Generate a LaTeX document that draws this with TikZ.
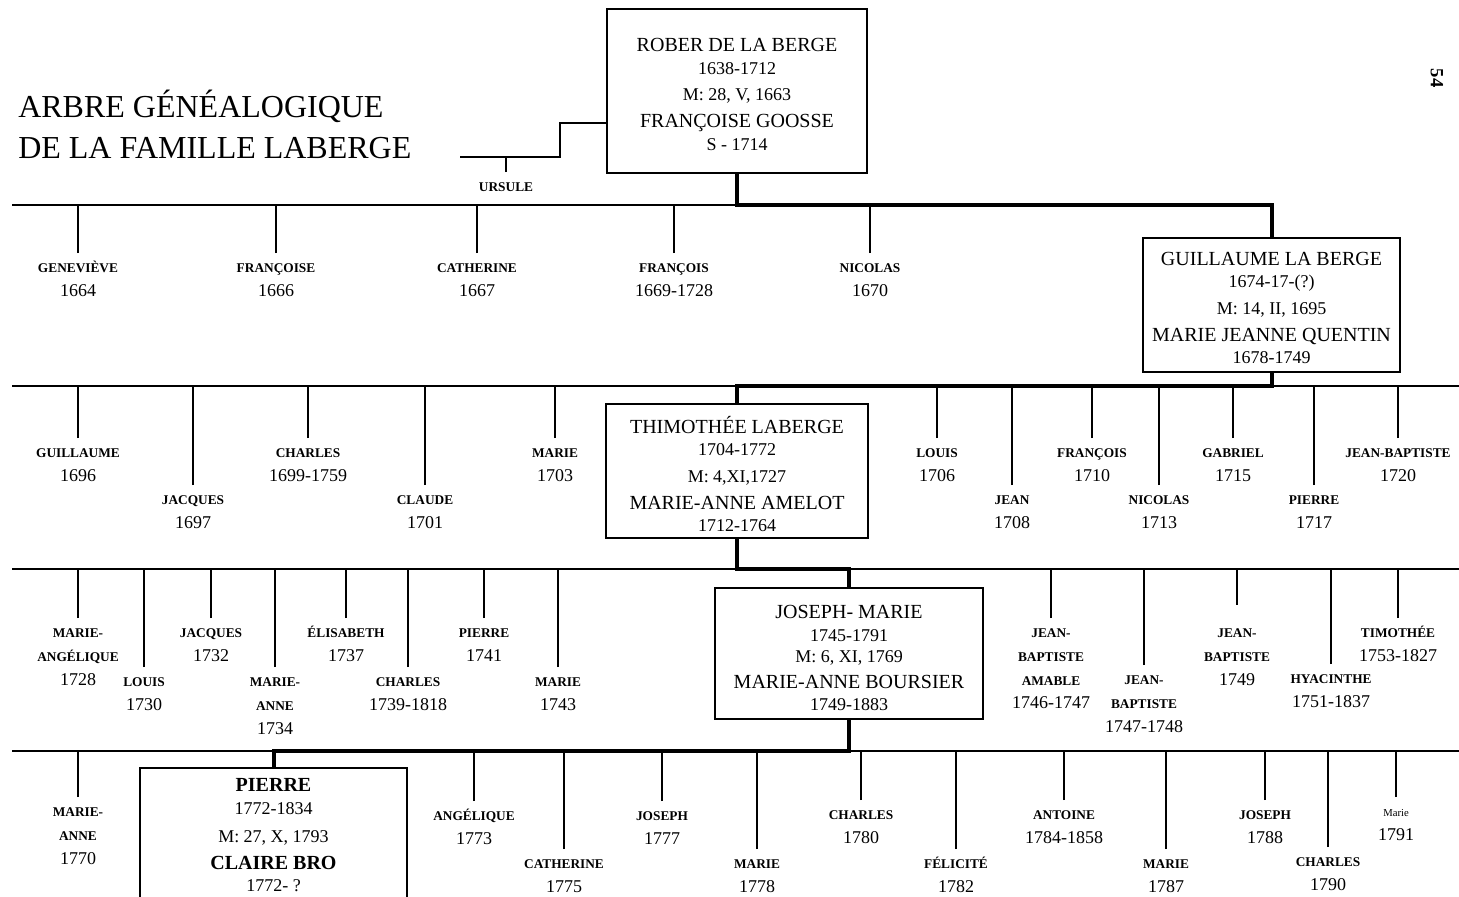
\documentclass[tikz,border=0pt]{standalone}
\usepackage{fontspec}
\setmainfont{Liberation Serif}

\newcommand{\yearf}{\mdseries\fontsize{13.5}{17.8}\selectfont}
\newcommand{\smallf}{\mdseries\fontsize{8}{17.8}\selectfont}
\newcommand{\nm}{\rule{0pt}{11pt}}
\newcommand{\lift}[1]{\rule{0pt}{#1}}

\begin{document}
\begin{tikzpicture}[x=0.75pt,y=-0.75pt,
  kid/.style={anchor=north,align=center,font=\bfseries\fontsize{10}{17.8}\selectfont,inner xsep=1pt,inner ysep=3.55pt},
  couple/.style={draw,line width=1.1pt,align=center,font=\fontsize{15}{17}\selectfont,inner sep=0pt},
  tick/.style={line width=1.1pt},
  lineage/.style={line width=3pt}]
\useasboundingbox (0,0) rectangle (1459,896);

% Title and page number
\node[anchor=base west,inner sep=0pt,font=\fontsize{24}{30}\selectfont] (title1) at (18,117.5) {ARBRE GÉNÉALOGIQUE};
\node[anchor=base west,inner sep=0pt,font=\fontsize{24}{30}\selectfont] (title2) at (18,158.5) {DE LA FAMILLE LABERGE};
\node[rotate=-90,font=\bfseries\fontsize{14}{14}\selectfont] (page) at (1437,78) {54};

% The couples
\node[couple,minimum width=195pt,minimum height=123pt] (rober) at (737,91)
  {\lift{15pt}ROBER DE LA BERGE\\{\yearf 1638-1712}\\[3pt]{\yearf M: 28, V, 1663}\\[3pt]FRANÇOISE GOOSSE\\{\yearf S - 1714}};
\node[couple,minimum width=192.75pt,minimum height=100.5pt] (guil) at (1271.5,305)
  {\lift{14.3pt}GUILLAUME LA BERGE\\{\yearf 1674-17-(?)}\\[3pt]{\yearf M: 14, II, 1695}\\[3pt]MARIE JEANNE QUENTIN\\{\yearf 1678-1749}};
\node[couple,minimum width=196.5pt,minimum height=100.5pt] (thim) at (737,471)
  {\lift{17.4pt}THIMOTHÉE LABERGE\\{\yearf 1704-1772}\\[3pt]{\yearf M: 4,XI,1727}\\[3pt]MARIE-ANNE AMELOT\\{\yearf 1712-1764}};
\node[couple,minimum width=201pt,minimum height=98.25pt] (jos) at (849,653.5)
  {\lift{17.3pt}JOSEPH- MARIE\\{\yearf 1745-1791}\\[-1.5pt]{\yearf M: 6, XI, 1769}\\[2.5pt]MARIE-ANNE BOURSIER\\{\yearf 1749-1883}};
\node[couple,minimum width=200.25pt,minimum height=101.25pt] (pier) at (273.5,835.5)
  {\textbf{PIERRE}\\{\yearf 1772-1834}\\[4pt]{\yearf M: 27, X, 1793}\\[3pt]\textbf{CLAIRE BRO}\\{\yearf 1772- ?}};

% Generation lines
\coordinate (ubar) at (460,157);
\coordinate (g1) at (12,205);
\coordinate (g2) at (12,386);
\coordinate (g2e) at (1459,386);
\coordinate (g3) at (12,569);
\coordinate (g3e) at (1459,569);
\coordinate (g4) at (12,751);
\coordinate (g4e) at (1459,751);
\draw[tick] (g1) -- (guil |- g1);
\draw[tick] (g2) -- (g2e);
\draw[tick] (g3) -- (g3e);
\draw[tick] (g4) -- (g4e);

% Ursule
\node[kid] (urs) at (506,172) {\nm URSULE};
\draw[tick] (rober.west |- 0,123) -| (560,157) -- (ubar);
\draw[tick] (urs) -- (urs |- ubar);

% Children of Rober
\foreach \x/\t/\txt [count=\i] in {78/253/{GENEVIÈVE\\{\yearf 1664}},
  276/253/{FRANÇOISE\\{\yearf 1666}}, 477/253/{CATHERINE\\{\yearf 1667}},
  674/253/{FRANÇOIS\\{\yearf 1669-1728}}, 870/253/{NICOLAS\\{\yearf 1670}}}
{
  \node[kid] (a\i) at (\x,\t) {\nm\txt};
  \draw[tick] (a\i) -- (a\i |- g1);
}

% Children of Guillaume
\foreach \x/\t/\txt [count=\i] in {78/438/{GUILLAUME\\{\yearf 1696}},
  193/485/{JACQUES\\{\yearf 1697}}, 308/438/{CHARLES\\{\yearf 1699-1759}},
  425/485/{CLAUDE\\{\yearf 1701}}, 555/438/{MARIE\\{\yearf 1703}},
  937/438/{LOUIS\\{\yearf 1706}}, 1012/485/{JEAN\\{\yearf 1708}},
  1092/438/{FRANÇOIS\\{\yearf 1710}}, 1159/485/{NICOLAS\\{\yearf 1713}},
  1233/438/{GABRIEL\\{\yearf 1715}}, 1314/485/{PIERRE\\{\yearf 1717}},
  1398/438/{JEAN-BAPTISTE\\{\yearf 1720}}}
{
  \node[kid] (b\i) at (\x,\t) {\nm\txt};
  \draw[tick] (b\i) -- (b\i |- g2);
}

% Children of Thimothee
\foreach \x/\t/\txt [count=\i] in {78/618/{MARIE-\\ANGÉLIQUE\\{\yearf 1728}},
  144/667/{LOUIS\\{\yearf 1730}}, 211/618/{JACQUES\\{\yearf 1732}},
  275/667/{MARIE-\\ANNE\\{\yearf 1734}}, 346/618/{ÉLISABETH\\{\yearf 1737}},
  408/667/{CHARLES\\{\yearf 1739-1818}}, 484/618/{PIERRE\\{\yearf 1741}},
  558/667/{MARIE\\{\yearf 1743}}, 1051/618/{JEAN-\\BAPTISTE\\AMABLE\\{\yearf 1746-1747}},
  1144/665/{JEAN-\\BAPTISTE\\{\yearf 1747-1748}}, 1331/664/{HYACINTHE\\{\yearf 1751-1837}},
  1398/618/{TIMOTHÉE\\{\yearf 1753-1827}}}
{
  \node[kid] (c\i) at (\x,\t) {\nm\txt};
  \draw[tick] (c\i) -- (c\i |- g3);
}
\node[kid] (c13) at (1237,618) {\nm JEAN-\\BAPTISTE\\{\yearf 1749}};
\draw[tick,shorten >=10pt] (c13 |- g3) -- (c13);

% Children of Joseph-Marie
\foreach \x/\t/\txt [count=\i] in {78/797/{MARIE-\\ANNE\\{\yearf 1770}},
  474/801/{ANGÉLIQUE\\{\yearf 1773}}, 564/849/{CATHERINE\\{\yearf 1775}},
  662/801/{JOSEPH\\{\yearf 1777}}, 757/849/{MARIE\\{\yearf 1778}},
  861/800/{CHARLES\\{\yearf 1780}}, 956/849/{FÉLICITÉ\\{\yearf 1782}},
  1064/800/{ANTOINE\\{\yearf 1784-1858}}, 1166/849/{MARIE\\{\yearf 1787}},
  1265/800/{JOSEPH\\{\yearf 1788}}, 1328/847/{CHARLES\\{\yearf 1790}},
  1396/797/{{\smallf Marie}\\{\yearf 1791}}}
{
  \node[kid] (d\i) at (\x,\t) {\nm\txt};
  \draw[tick] (d\i) -- (d\i |- g4);
}

% Line of descent
\draw[lineage] (rober.south) |- (guil |- g1) -- (guil.north);
\draw[lineage] (guil.south) |- (thim |- g2) -- (thim.north);
\draw[lineage] (thim.south) |- (jos |- g3) -- (jos.north);
\draw[lineage] (jos.south) |- (pier |- g4) -- (pier.north);

\end{tikzpicture}
\end{document}
